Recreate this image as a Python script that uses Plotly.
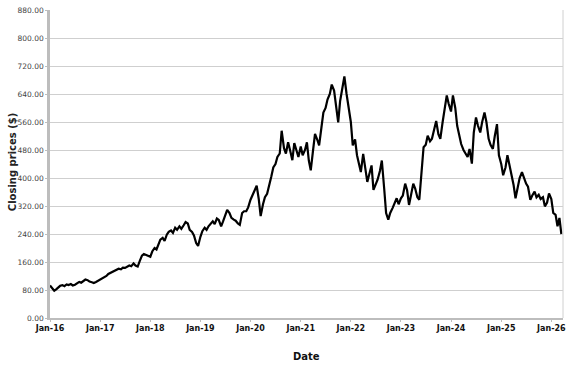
import pandas as pd
import plotly.graph_objects as go

# Semi-monthly closing prices (1st and 15th of each month), Jan 2016 - Mar 2026
prices_2016 = [93, 86, 78, 82, 88, 92, 94, 91, 96, 94, 97, 93, 95, 99, 103, 101, 106, 110, 108, 104, 102, 100, 103, 106]
prices_2017 = [109, 114, 118, 120, 126, 129, 132, 135, 138, 141, 139, 144, 143, 146, 150, 148, 156, 150, 147, 162, 178, 183, 180, 176]
prices_2018 = [175, 190, 200, 196, 212, 224, 229, 220, 238, 246, 250, 243, 258, 252, 262, 255, 265, 274, 270, 252, 246, 236, 214, 206]
prices_2019 = [232, 248, 258, 252, 262, 270, 276, 268, 284, 280, 262, 276, 296, 309, 300, 286, 281, 278, 270, 266, 300, 305, 305, 316]
prices_2020 = [338, 350, 362, 378, 340, 291, 325, 345, 355, 375, 405, 430, 440, 460, 470, 535, 485, 470, 502, 480, 451, 500, 480, 460]
prices_2021 = [490, 465, 480, 502, 450, 422, 480, 526, 510, 493, 545, 587, 600, 624, 640, 667, 650, 610, 559, 620, 660, 690, 640, 600]
prices_2022 = [560, 493, 510, 465, 440, 417, 469, 430, 389, 410, 436, 366, 380, 395, 420, 450, 370, 300, 281, 300, 314, 330, 342, 325]
prices_2023 = [342, 350, 384, 365, 323, 350, 384, 370, 345, 338, 417, 488, 495, 521, 505, 512, 540, 563, 525, 512, 560, 600, 636, 612]
prices_2024 = [590, 636, 600, 549, 520, 497, 480, 470, 460, 483, 441, 530, 573, 550, 530, 560, 587, 560, 512, 495, 483, 520, 554, 465]
prices_2025 = [440, 408, 430, 465, 440, 408, 380, 342, 370, 400, 417, 400, 384, 375, 338, 350, 361, 345, 352, 340, 345, 319, 330, 356]
prices_2026 = [340, 300, 295, 262, 286, 240]

y_ticks = [0, 80, 160, 240, 320, 400, 480, 560, 640, 720, 800, 880]
x_tick_dates = ["2016-01-01", "2017-01-01", "2018-01-01", "2019-01-01", "2020-01-01", "2021-01-01",
                "2022-01-01", "2023-01-01", "2024-01-01", "2025-01-01", "2026-01-01"]
x_tick_labels = ["Jan-16", "Jan-17", "Jan-18", "Jan-19", "Jan-20", "Jan-21",
                 "Jan-22", "Jan-23", "Jan-24", "Jan-25", "Jan-26"]

prices = (prices_2016 + prices_2017 + prices_2018 + prices_2019 + prices_2020 + prices_2021 +
          prices_2022 + prices_2023 + prices_2024 + prices_2025 + prices_2026)
dates = pd.date_range("2016-01-01", periods=len(prices), freq="SMS")

fig = go.Figure()
fig.add_trace(go.Scatter(x=dates, y=prices, mode="lines",
                         line=dict(color="black", width=2.2), hoverinfo="skip"))

grid_col = "#cfcfcf"
fig.update_layout(
    width=577, height=367,
    margin=dict(l=50, r=14, t=6, b=49),
    paper_bgcolor="white", plot_bgcolor="white",
    showlegend=False,
    font=dict(family="DejaVu Sans", color="#333"),
    xaxis=dict(
        range=["2016-01-01", "2026-03-27"],
        tickvals=x_tick_dates, ticktext=x_tick_labels,
        tickfont=dict(size=8, color="#111", weight="bold"),
        showgrid=False, zeroline=False,
        showline=True, linecolor="#bdbdbd", linewidth=1.5,
        ticks="outside", ticklen=2, tickcolor="#bdbdbd",
    ),
    yaxis=dict(
        range=[0, 880], tickvals=y_ticks, tickformat=".2f",
        tickfont=dict(size=7.5, color="#444"),
        showgrid=True, gridcolor=grid_col, gridwidth=1,
        zeroline=False,
        showline=True, linecolor="#bdbdbd", linewidth=2.5,
        ticks="outside", ticklen=2, tickcolor="#bdbdbd",
    ),
    shapes=[dict(type="line", xref="paper", yref="paper", x0=1, x1=1, y0=0, y1=1,
                 line=dict(color="#d0d0d0", width=1))],
    annotations=[
        dict(text="Closing prices ($)", xref="paper", yref="paper",
             x=-0.074, y=0.506, xanchor="center", yanchor="middle", textangle=-90,
             showarrow=False, font=dict(size=10, color="#222", weight="bold")),
        dict(text="Date", xref="paper", yref="paper",
             x=0.5, y=-0.124, xanchor="center", yanchor="middle",
             showarrow=False, font=dict(size=10, color="#111", weight="bold")),
    ],
)

fig.write_html("out.html", config={"displayModeBar": False},
               post_script="document.body.style.margin='0';document.body.style.overflow='hidden';")
